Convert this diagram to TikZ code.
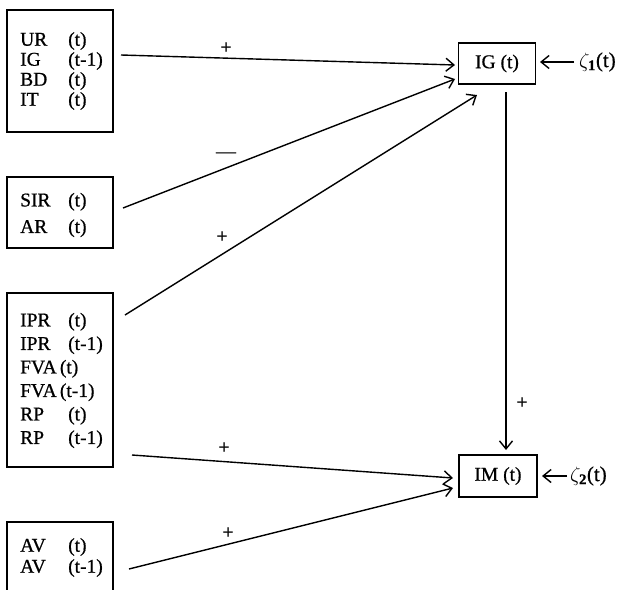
\documentclass[tikz,border=0pt]{standalone}
\usepackage{fontspec}
\setmainfont{Liberation Serif}[FakeBold=0.7]
\usetikzlibrary{arrows.meta}
\tikzset{
  varbox/.style={draw, line width=1.7pt, minimum width=106pt, inner sep=0pt},
  eqbox/.style={draw, line width=1.7pt, inner sep=0pt, font=\fontsize{19.5}{20}\selectfont},
  vartext/.style={anchor=west, align=left, inner sep=0pt},
  conn/.style={line width=1.4pt, -{Straight Barb[length=8pt,width=13pt,line width=1.4pt]}},
  sign/.style={inner sep=0pt, font=\fontsize{20}{20}\selectfont},
  zeta/.style={anchor=west, inner sep=0pt, font=\fontsize{21}{21}\selectfont},
}
\newcommand{\vrow}[2]{\makebox[48pt][l]{#1}#2}
\begin{document}
\begin{tikzpicture}[x=1pt,y=-1pt]
\clip (0,0) rectangle (623,589);
\fill[white] (0,0) rectangle (623,589);
% variable boxes
\node[varbox, minimum height=122pt] (b1) at (60,71) {};
\node[vartext, font=\fontsize{19.5}{20}\selectfont] (t1) at (20,71)
  {\vrow{UR}{(t)}\\\vrow{IG}{(t-1)}\\\vrow{BD}{(t)}\\\vrow{IT}{(t)}};
\node[varbox, minimum height=71pt] (b2) at (60,212.5) {};
\node[vartext, font=\fontsize{19.5}{26.5}\selectfont] (t2) at (20,215)
  {\vrow{SIR}{(t)}\\\vrow{AR}{(t)}};
\node[varbox, minimum height=174pt] (b3) at (60,380) {};
\node[vartext, font=\fontsize{19.5}{23.5}\selectfont] (t3) at (20,380.5)
  {\vrow{IPR}{(t)}\\\vrow{IPR}{(t-1)}\\FVA\,(t)\\FVA\,(t-1)\\\vrow{RP}{(t)}\\\vrow{RP}{(t-1)}};
\node[varbox, minimum height=100pt] (b4) at (60,572) {};
\node[vartext, font=\fontsize{19.5}{21}\selectfont] (t4) at (20,557.5)
  {\vrow{AV}{(t)}\\\vrow{AV}{(t-1)}};
% equation boxes
\node[eqbox, minimum width=77pt, minimum height=41pt] (IG) at (497,63.5) {IG (t)};
\node[eqbox, minimum width=78pt, minimum height=42pt] (IM) at (498,476) {IM (t)};
\node[zeta] (z1) at (579,62) {$\zeta_{\mathbf 1}$(t)};
\node[zeta] (z2) at (570,476) {$\zeta_{\mathbf 2}$(t)};
% connector end points
\coordinate (s1) at (121,55);
\coordinate (e1) at (455,65);
\coordinate (s2) at (123,208);
\coordinate (e2) at (455,79);
\coordinate (s3) at (125,315);
\coordinate (e3) at (477,95);
\coordinate (sv) at (506,92);
\coordinate (ev) at (506,450);
\coordinate (s4) at (132,455);
\coordinate (e4) at (453,478);
\coordinate (s5) at (129,569);
\coordinate (e5) at (453,488);
\coordinate (zs1) at (574,62);
\coordinate (ze1) at (540,62);
\coordinate (zs2) at (567,476);
\coordinate (ze2) at (542,476);
% connectors
\draw[conn] (s1) -- (e1);
\draw[conn] (s2) -- (e2);
\draw[conn] (s3) -- (e3);
\draw[conn] (sv) -- (ev);
\draw[conn] (s4) -- (e4);
\draw[conn] (s5) -- (e5);
\draw[conn] (zs1) -- (ze1);
\draw[conn] (zs2) -- (ze2);
% signs
\node[sign] (p1) at (226,48) {+};
\node[sign] (m2) at (226,155) {—};
\node[sign] (p3) at (222,237) {+};
\node[sign] (pv) at (522,403) {+};
\node[sign] (p4) at (224,448) {+};
\node[sign] (p5) at (228,533) {+};
\end{tikzpicture}
\end{document}
